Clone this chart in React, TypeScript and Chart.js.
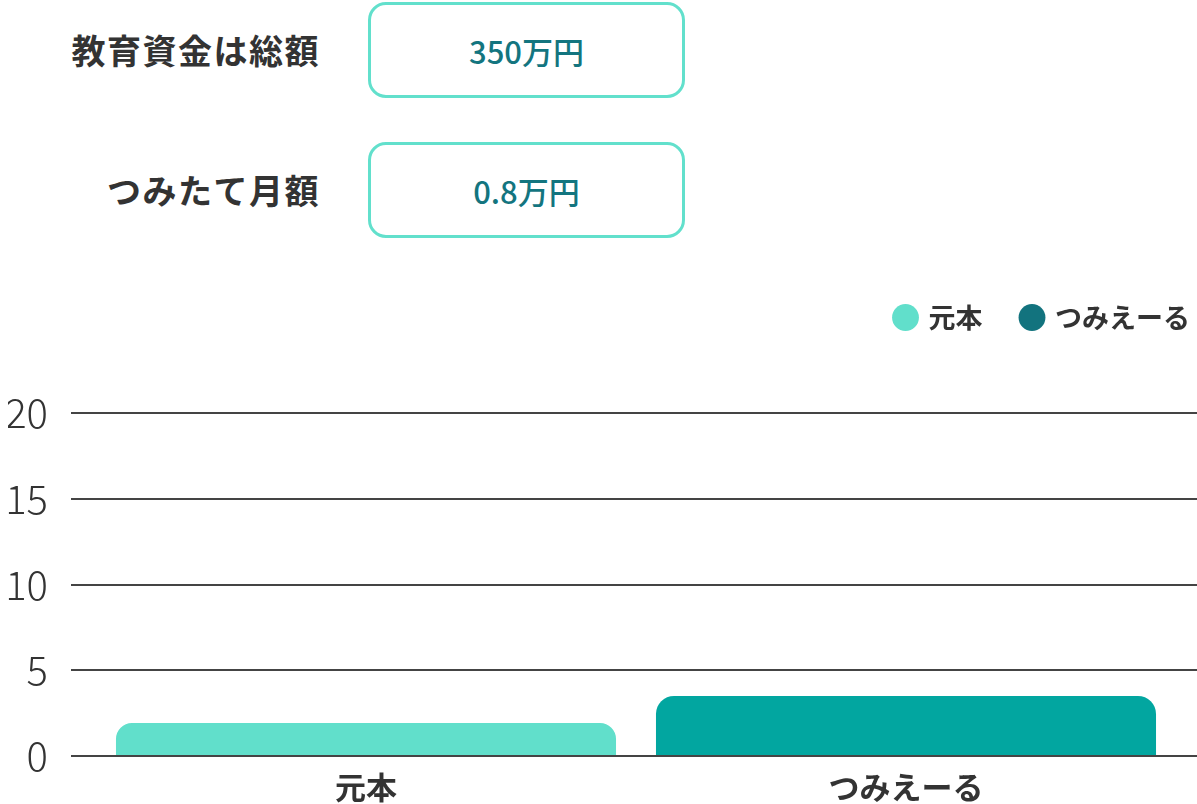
import { useEffect, useRef } from 'react';
import { Chart, registerables } from 'chart.js';

Chart.register(...registerables);

// chart data
const categories = ['元本', 'つみえーる'];
const seriesNames = ['元本', 'つみえーる'];
const principalValues = [1.92, null];
const tsumieruValues = [null, 3.5];
const yMin = 0;
const yMax = 20;
const yStep = 5;

// input summary shown above the chart
const inputLabels = ['教育資金は総額', 'つみたて月額'];
const inputValues = ['350万円', '0.8万円'];

const barColors = ['#61dfcb', '#02a6a0'];
const legendColors = ['#61dfcb', '#12737e'];
const textColor = '#333333';
const gridColor = '#444444';
const fontFamily = "'Noto Sans CJK JP', 'Noto Sans', sans-serif";

// push the plot area down below the legend
const legendGap = {
  id: 'legendGap',
  beforeInit(chart: any) {
    const originalFit = chart.legend.fit;
    chart.legend.fit = function fit() {
      originalFit.bind(chart.legend)();
      this.height += 72;
    };
  },
};

function SavingsChart() {
  const chartRef = useRef<HTMLCanvasElement>(null);
  const chartInstance = useRef<Chart | null>(null);

  useEffect(() => {
    if (!chartRef.current) return;
    if (chartInstance.current) {
      chartInstance.current.destroy();
    }
    const ctx = chartRef.current.getContext('2d');
    if (!ctx) return;

    chartInstance.current = new Chart(ctx, {
      type: 'bar',
      data: {
        labels: categories,
        datasets: [
          {
            label: seriesNames[0],
            data: principalValues,
            backgroundColor: barColors[0],
            borderRadius: 18,
            skipNull: true,
            categoryPercentage: 1,
            barPercentage: 0.926,
          },
          {
            label: seriesNames[1],
            data: tsumieruValues,
            backgroundColor: barColors[1],
            borderRadius: 18,
            skipNull: true,
            categoryPercentage: 1,
            barPercentage: 0.926,
          },
        ],
      },
      options: {
        responsive: true,
        maintainAspectRatio: false,
        animation: false,
        layout: {
          padding: { top: 14, left: 8, right: 0, bottom: 0 },
        },
        plugins: {
          legend: {
            position: 'top',
            align: 'end',
            labels: {
              usePointStyle: true,
              pointStyle: 'circle',
              boxWidth: 19,
              boxHeight: 19,
              padding: 40,
              color: textColor,
              font: { family: fontFamily, size: 27, weight: 'bold' },
              generateLabels: (chart: any) =>
                Chart.defaults.plugins.legend.labels
                  .generateLabels(chart)
                  .map((item: any, i: number) => ({
                    ...item,
                    fillStyle: legendColors[i],
                    strokeStyle: legendColors[i],
                  })),
            },
          },
          tooltip: { enabled: false },
        },
        scales: {
          x: {
            grid: { display: false, drawTicks: false },
            border: { display: false },
            ticks: {
              color: textColor,
              padding: 13,
              font: { family: fontFamily, size: 31, weight: 'bold', lineHeight: 1.2 },
            },
            afterFit: (scale: any) => {
              scale.height = 54;
            },
          },
          y: {
            min: yMin,
            max: yMax,
            ticks: {
              stepSize: yStep,
              padding: 23,
              color: textColor,
              font: { family: fontFamily, size: 40, weight: '300' },
            },
            grid: { color: gridColor, lineWidth: 2, tickLength: 25 },
            border: { display: false },
            afterFit: (scale: any) => {
              scale.width = 88;
            },
          },
          y2: {
            position: 'right',
            min: yMin,
            max: yMax,
            ticks: { display: false, stepSize: yStep },
            grid: { drawOnChartArea: false, color: gridColor, lineWidth: 2, tickLength: 54 },
            border: { display: false },
            afterFit: (scale: any) => {
              scale.width = 54;
            },
          },
        },
      },
      plugins: [legendGap],
    });

    return () => {
      if (chartInstance.current) {
        chartInstance.current.destroy();
        chartInstance.current = null;
      }
    };
  }, []);

  return (
    <div style={{ position: 'absolute', left: 0, top: 250, width: 1230, height: 560 }}>
      <canvas ref={chartRef} />
    </div>
  );
}

export default function App() {
  return (
    <div
      style={{
        position: 'absolute',
        left: 0,
        top: 0,
        width: 1197,
        height: 804,
        overflow: 'hidden',
        background: '#ffffff',
        fontFamily,
      }}
    >
      {inputLabels.map((label, i) => (
        <div key={label}>
          <div
            style={{
              position: 'absolute',
              left: 0,
              top: 2 + i * 140,
              width: 320,
              height: 96,
              lineHeight: '96px',
              textAlign: 'right',
              fontSize: 34,
              fontWeight: 'bold',
              letterSpacing: 1.5,
              color: textColor,
            }}
          >
            {label}
          </div>
          <div
            style={{
              position: 'absolute',
              left: 368,
              top: 2 + i * 140,
              width: 317,
              height: 96,
              boxSizing: 'border-box',
              border: '3px solid #62e0cc',
              borderRadius: 18,
              display: 'flex',
              alignItems: 'center',
              justifyContent: 'center',
              fontSize: 31,
              fontWeight: 500,
              color: '#13757f',
            }}
          >
            {inputValues[i]}
          </div>
        </div>
      ))}
      <SavingsChart />
    </div>
  );
}
